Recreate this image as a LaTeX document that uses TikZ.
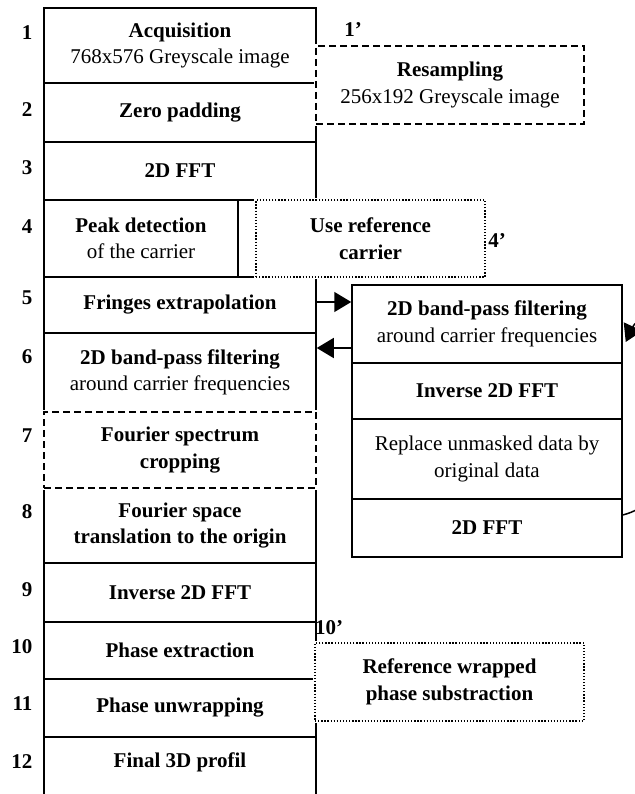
\documentclass[tikz,border=0pt]{standalone}
\usepackage{fontspec}
\setmainfont{Liberation Serif}
\usetikzlibrary{arrows.meta,backgrounds}
\begin{document}
\begin{tikzpicture}[x=1pt,y=-1pt, font=\fontsize{21}{26.5}\selectfont,
  box/.style={draw, line width=1.5pt, rectangle, inner sep=0pt, align=center, fill=white},
  mainbox/.style={box, minimum width=272pt},
  sidebox/.style={box, minimum width=270pt},
  dashbox/.style={box, dash pattern=on 7pt off 4pt, line width=2.2pt, preaction={draw=white, solid, line width=4pt}},
  dotbox/.style={box, dash pattern=on 1.3pt off 1.8pt, line width=1.3pt, preaction={draw=white, solid, line width=4pt}},
  num/.style={anchor=east, font=\fontsize{21}{26.5}\selectfont\bfseries},
  txt/.style={align=center, inner sep=0pt},
  arr/.style={line width=1.5pt, -{Triangle[length=17pt,width=20pt]}}]
\useasboundingbox (0,0) rectangle (634,794);
\clip (0,0) rectangle (634,794);

% main column
\node[mainbox, minimum height=75pt] (r1) at (180,45.5) {\textbf{Acquisition}\\768x576 Greyscale image};
\node[mainbox, minimum height=59pt] (r2) at (180,112.5) {\textbf{Zero padding}};
\node[mainbox, minimum height=58pt] (r3) at (180,171) {\textbf{2D FFT}};
\node[box, minimum width=194pt, minimum height=77pt] (r4) at (141,238.5) {\textbf{Peak detection}\\of the carrier};
\node[mainbox, minimum height=56pt] (r5) at (180,305) {\textbf{Fringes extrapolation}};
\node[mainbox, minimum height=79pt] (r6) at (180,372.5) {\textbf{2D band-pass filtering}\\around carrier frequencies};
\node[mainbox, minimum height=75pt] (r8) at (180,525.5) {\textbf{Fourier space}\\\textbf{translation to the origin}};
\node[mainbox, minimum height=59pt] (r9) at (180,592.5) {\textbf{Inverse 2D FFT}};
\node[mainbox, minimum height=57pt] (r10) at (180,650.5) {\textbf{Phase extraction}};
\node[mainbox, minimum height=58pt] (r11) at (180,708) {\textbf{Phase unwrapping}};
\node[mainbox, minimum height=63pt] (r12) at (180,768.5) {};
\node[txt] (t12) at (180,762) {\textbf{Final 3D profil}};
\node[dashbox, minimum width=272pt, minimum height=76pt] (r7) at (180,450) {\textbf{Fourier spectrum}\\\textbf{cropping}};

% step numbers
\node[num] (n1) at (36,33) {1};
\node[num] (n2) at (36,110) {2};
\node[num] (n3) at (36,168) {3};
\node[num] (n4) at (36,227) {4};
\node[num] (n5) at (36,298) {5};
\node[num] (n6) at (36,357) {6};
\node[num] (n7) at (36,436) {7};
\node[num] (n8) at (36,512) {8};
\node[num] (n9) at (36,590) {9};
\node[num] (n10) at (36,647) {10};
\node[num] (n11) at (36,704) {11};
\node[num] (n12) at (36,762) {12};

% right stack
\node[sidebox, minimum height=78pt] (s1) at (487,324) {\textbf{2D band-pass filtering}\\around carrier frequencies};
\node[sidebox, minimum height=56pt] (s2) at (487,391) {\textbf{Inverse 2D FFT}};
\node[sidebox, minimum height=80pt] (s3) at (487,459) {Replace unmasked data by\\original data};
\node[sidebox, minimum height=58pt] (s4) at (487,528) {\textbf{2D FFT}};

% optional boxes
\node[dashbox, minimum width=268pt, minimum height=78pt] (rs) at (450,85) {\textbf{Resampling}\\256x192 Greyscale image};
\node[dotbox, minimum width=229pt, minimum height=77pt] (ur) at (370.5,238.5) {\textbf{Use reference}\\\textbf{carrier}};
\node[dotbox, minimum width=269pt, minimum height=78pt] (rw) at (449.5,682) {\textbf{Reference wrapped}\\\textbf{phase substraction}};

\node[num, anchor=center] (p1) at (353,30) {1’};
\node[num, anchor=center] (p4) at (497,241) {4’};
\node[num, anchor=center] (p10) at (329,628) {10’};

% connectors
\draw[arr] ([yshift=3pt]r5.east) -- ([yshift=3pt]r5.east -| s1.west);
\draw[arr] ([yshift=-24pt]s1.west) -- ([yshift=-24pt]s1.west -| r6.east);
\begin{scope}[on background layer]
\draw[arr] ([yshift=13pt]s4.east) .. controls (720,490) and (650,290) .. ([xshift=3pt,yshift=-18pt]s1.east);
\end{scope}
\end{tikzpicture}
\end{document}
